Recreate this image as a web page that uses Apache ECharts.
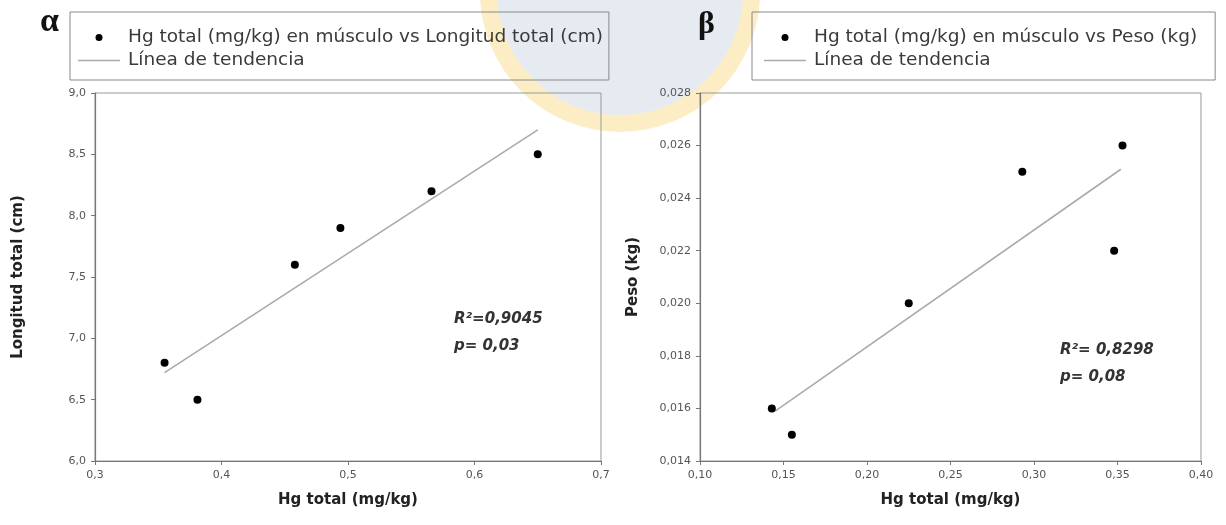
<!DOCTYPE html>
<html><head><meta charset="utf-8">
<script src="https://cdn.jsdelivr.net/npm/echarts@6/dist/echarts.min.js"></script>
<style>html,body{margin:0;padding:0;background:#fff}#c{width:1226px;height:525px}</style>
</head><body><div id="c"></div>
<script>
// Panel α: Hg total vs Longitud total
const hgLen = [0.355, 0.381, 0.458, 0.494, 0.566, 0.650];
const lengthCm = [6.8, 6.5, 7.6, 7.9, 8.2, 8.5];
const trendLenX = [0.355, 0.650];
const trendLenY = [6.72, 8.70];
// Panel β: Hg total vs Peso
const hgPeso = [0.143, 0.155, 0.225, 0.293, 0.348, 0.353];
const pesoKg = [0.016, 0.015, 0.020, 0.025, 0.022, 0.026];
const trendPesoX = [0.145, 0.352];
const trendPesoY = [0.0159, 0.0251];

const nameLen = 'Hg total (mg/kg) en músculo vs Longitud total (cm)';
const namePeso = 'Hg total (mg/kg) en músculo vs Peso (kg)';
const nameTrend = 'Línea de tendencia';
const xTitle = 'Hg total (mg/kg)';
const yTitleLen = 'Longitud total (cm)';
const yTitlePeso = 'Peso (kg)';
const statsLen = ['R²=0,9045', 'p= 0,03'];
const statsPeso = ['R²= 0,8298', 'p= 0,08'];

const zip = (a, b) => a.map((v, i) => [v, b[i]]);
const comma = d => v => v.toFixed(d).replace('.', ',');

const FONT = 'DejaVu Sans';
const tickLabel = d => ({ formatter: comma(d), color: '#555', fontSize: 11, fontFamily: FONT, margin: 9 });
const axisLine = { show: true, lineStyle: { color: '#777', width: 1.2 } };
const axisTick = { show: true, length: 4, lineStyle: { color: '#777' } };
const nameStyle = { fontFamily: FONT, fontWeight: 'bold', fontSize: 15, color: '#222' };
const lineIcon = 'path://M0,0 L42,0 L42,1.6 L0,1.6 Z';

const legendBase = {
  orient: 'vertical', top: 12, itemGap: 4, itemWidth: 42, itemHeight: 7,
  borderColor: '#888', borderWidth: 1,
  textStyle: { fontFamily: FONT, fontSize: 18.5, color: '#3a3a3a', padding: [0, 0, 0, 3] }
};

const chart = echarts.init(document.getElementById('c'));
chart.setOption({
  animation: false,
  backgroundColor: '#fff',
  graphic: [
    { type: 'circle', z: -10, silent: true, shape: { cx: 620, cy: -8, r: 140 }, style: { fill: '#fcedc4' } },
    { type: 'circle', z: -9, silent: true, shape: { cx: 620, cy: -8, r: 123 }, style: { fill: '#e6ebf2' } },
    { type: 'text', left: 40, top: 5, style: { text: 'α', font: 'bold 34px "Liberation Serif"', fill: '#111' } },
    { type: 'text', left: 698, top: 9, style: { text: 'β', font: 'bold 32px "Liberation Serif"', fill: '#111' } },
    { type: 'text', left: 454, top: 306, style: { text: statsLen.join('\n'), font: 'italic bold 15px "DejaVu Sans"', lineHeight: 27, fill: '#333' } },
    { type: 'text', left: 1060, top: 337, style: { text: statsPeso.join('\n'), font: 'italic bold 15px "DejaVu Sans"', lineHeight: 27, fill: '#333' } }
  ],
  legend: [
    Object.assign({}, legendBase, { left: 70, padding: [16, 6, 10, 8],
      data: [{ name: nameLen, icon: 'circle' }, { name: nameTrend, icon: lineIcon }] }),
    Object.assign({}, legendBase, { left: 752, padding: [16, 18, 10, 12],
      data: [{ name: namePeso, icon: 'circle' }, { name: nameTrend, icon: lineIcon }] })
  ],
  grid: [
    { left: 95, top: 93, width: 506, height: 368, show: true, borderColor: '#999', borderWidth: 1 },
    { left: 700, top: 93, width: 501, height: 368, show: true, borderColor: '#999', borderWidth: 1 }
  ],
  xAxis: [
    { gridIndex: 0, type: 'value', min: 0.3, max: 0.7, interval: 0.1, splitLine: { show: false },
      axisLine, axisTick, axisLabel: tickLabel(1),
      name: xTitle, nameLocation: 'middle', nameGap: 32, nameTextStyle: nameStyle },
    { gridIndex: 1, type: 'value', min: 0.1, max: 0.4, interval: 0.05, splitLine: { show: false },
      axisLine, axisTick, axisLabel: tickLabel(2),
      name: xTitle, nameLocation: 'middle', nameGap: 32, nameTextStyle: nameStyle }
  ],
  yAxis: [
    { gridIndex: 0, type: 'value', min: 6, max: 9, interval: 0.5, splitLine: { show: false },
      axisLine, axisTick, axisLabel: tickLabel(1),
      name: yTitleLen, nameLocation: 'middle', nameGap: 69, nameRotate: 90, nameTextStyle: nameStyle },
    { gridIndex: 1, type: 'value', min: 0.014, max: 0.028, interval: 0.002, splitLine: { show: false },
      axisLine, axisTick, axisLabel: tickLabel(3),
      name: yTitlePeso, nameLocation: 'middle', nameGap: 59, nameRotate: 90, nameTextStyle: nameStyle }
  ],
  series: [
    { name: nameTrend, type: 'line', xAxisIndex: 0, yAxisIndex: 0, symbol: 'none',
      lineStyle: { color: '#aaa', width: 1.6 }, itemStyle: { color: '#aaa' }, data: zip(trendLenX, trendLenY), z: 2 },
    { name: nameLen, type: 'scatter', xAxisIndex: 0, yAxisIndex: 0, symbolSize: 8,
      itemStyle: { color: '#000', opacity: 1 }, data: zip(hgLen, lengthCm), z: 3 },
    { name: nameTrend, type: 'line', xAxisIndex: 1, yAxisIndex: 1, symbol: 'none',
      lineStyle: { color: '#aaa', width: 1.6 }, itemStyle: { color: '#aaa' }, data: zip(trendPesoX, trendPesoY), z: 2 },
    { name: namePeso, type: 'scatter', xAxisIndex: 1, yAxisIndex: 1, symbolSize: 8,
      itemStyle: { color: '#000', opacity: 1 }, data: zip(hgPeso, pesoKg), z: 3 }
  ]
});
</script>
</body></html>
